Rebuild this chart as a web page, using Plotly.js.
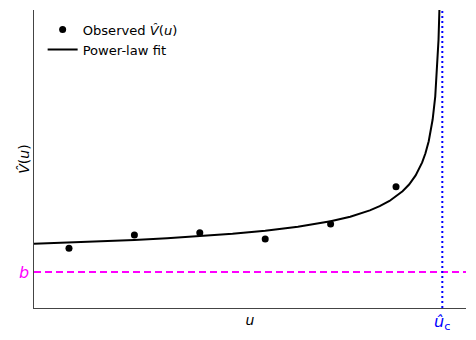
<!DOCTYPE html>
<html>
<head>
<meta charset="utf-8">
<script src="https://cdn.plot.ly/plotly-3.0.1.min.js"></script>
<style>html,body{margin:0;padding:0;background:#fff;}#chart{width:476px;height:340px;}</style>
</head>
<body>
<div id="chart"></div>
<script>
// Observed points
var obsU = [1, 2, 3, 4, 5, 6];
var obsV = [0.597, 0.73, 0.753, 0.69, 0.84, 1.213];
// Power-law fit curve
var fitU = [0.465, 1.0, 1.5, 2.0, 2.5, 3.0, 3.5, 4.0, 4.5, 5.0, 5.3, 5.6, 5.75, 5.9, 6.0, 6.1, 6.2, 6.3, 6.4, 6.45, 6.5, 6.56, 6.6, 6.63, 6.65, 6.665, 6.675];
var fitV = [0.643, 0.655, 0.667, 0.681, 0.698, 0.718, 0.742, 0.772, 0.812, 0.867, 0.913, 0.976, 1.018, 1.070, 1.114, 1.167, 1.235, 1.326, 1.456, 1.547, 1.668, 1.885, 2.117, 2.394, 2.684, 3.019, 3.355];
// Reference levels
var bLevel = 0.36;
var ucHat = 6.708;
var xRange = [0.465, 7.07];
var yRange = [0, 2.98];

var font = "DejaVu Sans, sans-serif";

var traces = [
  {x: obsU, y: obsV, mode: 'markers', type: 'scatter', name: 'Observed <i>V\u0302</i>(<i>u</i>)',
   marker: {color: '#000', size: 7}},
  {x: fitU, y: fitV, mode: 'lines', type: 'scatter', name: 'Power-law fit',
   line: {color: '#000', width: 2}},
  {x: xRange, y: [bLevel, bLevel], mode: 'lines', type: 'scatter', showlegend: false, hoverinfo: 'skip',
   line: {color: '#ff00ff', width: 2, dash: '7px,4px'}},
  {x: [ucHat, ucHat], y: yRange, mode: 'lines', type: 'scatter', showlegend: false, hoverinfo: 'skip',
   line: {color: '#0000ff', width: 2, dash: '2px,3px'}}
];

var layout = {
  width: 476, height: 340,
  margin: {l: 34, r: 10, t: 10, b: 32},
  paper_bgcolor: '#fff', plot_bgcolor: '#fff',
  font: {family: font, size: 13, color: '#000'},
  showlegend: true,
  legend: {x: 0.02, y: 0.985, xanchor: 'left', yanchor: 'top', bgcolor: 'rgba(0,0,0,0)',
           font: {family: font, size: 13.1, color: '#000'}, tracegroupgap: 0},
  xaxis: {range: xRange, showgrid: false, zeroline: false, showticklabels: false, ticks: '',
          showline: true, linecolor: '#444', linewidth: 1, mirror: false,
          title: {text: '<i>u</i>', font: {family: font, size: 14}, standoff: 7}},
  yaxis: {range: yRange, showgrid: false, zeroline: false, showticklabels: false, ticks: '',
          showline: true, linecolor: '#444', linewidth: 1, mirror: false,
          title: {text: '<i>V\u0302</i>(<i>u</i>)', font: {family: font, size: 14}, standoff: 0}},
  annotations: [
    {xref: 'paper', x: 0, yref: 'y', y: bLevel, text: '<i>b</i>', showarrow: false,
     xanchor: 'right', yanchor: 'middle', xshift: -3, font: {family: font, size: 16, color: '#ff00ff'}},
    {xref: 'x', x: ucHat, yref: 'paper', y: 0, text: '<i>\u00fb</i><sub>c</sub>', showarrow: false,
     xanchor: 'center', yanchor: 'top', yshift: -2, font: {family: font, size: 16, color: '#0000ff'}}
  ]
};

Plotly.newPlot('chart', traces, layout, {displayModeBar: false, staticPlot: true});
</script>
</body>
</html>
